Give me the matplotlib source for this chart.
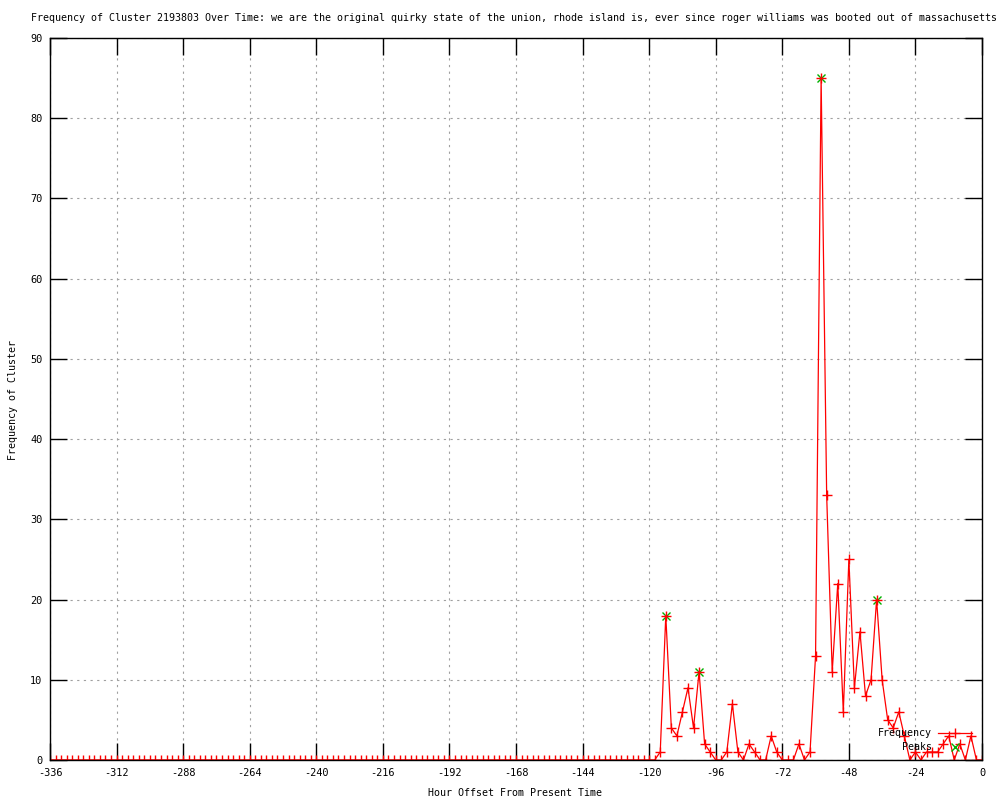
import matplotlib
matplotlib.use("Agg")
import matplotlib.pyplot as plt
from matplotlib.lines import Line2D
from matplotlib.ticker import FuncFormatter
import numpy as np

plt.rcParams['axes.unicode_minus'] = False
plt.rcParams['font.family'] = ['DejaVu Sans Mono']

title = ("Frequency of Cluster 2193803 Over Time: we are the original quirky state of the union, "
         "rhode island is, ever since roger williams was booted out of massachusetts")
x_label = "Hour Offset From Present Time"
y_label = "Frequency of Cluster"

# hours from -336 to 0, every 2 hours; zeros before -116
hours = list(range(-336, 1, 2))
nonzero = {
    -116: 1, -114: 18, -112: 4, -110: 3, -108: 6, -106: 9, -104: 4, -102: 11,
    -100: 2, -98: 1, -96: 0, -94: 0, -92: 1, -90: 7, -88: 1, -86: 0, -84: 2,
    -82: 1, -80: 0, -78: 0, -76: 3, -74: 1, -72: 0, -70: 0, -68: 0, -66: 2,
    -64: 0, -62: 1, -60: 13, -58: 85, -56: 33, -54: 11, -52: 22, -50: 6,
    -48: 25, -46: 9, -44: 16, -42: 8, -40: 10, -38: 20, -36: 10, -34: 5,
    -32: 4, -30: 6, -28: 3, -26: 0, -24: 1, -22: 0, -20: 1, -18: 1, -16: 1,
    -14: 2, -12: 3, -10: 0, -8: 2, -6: 0, -4: 3, -2: 0, 0: 0,
}
frequency = [nonzero.get(h, 0) for h in hours]

peak_hours = [-114, -102, -58, -38]
peak_values = [18, 11, 85, 20]

x_ticks = list(range(-336, 1, 24))
y_ticks = list(range(0, 91, 10))

fig = plt.figure(figsize=(10, 8), dpi=100)
ax = fig.add_axes([0.050, 0.050, 0.932, 0.9025])

ax.plot(hours, frequency, color='#ff0000', lw=0.9, marker='+', ms=7,
        mew=1.0, zorder=3, label='Frequency')
ax.plot(peak_hours, peak_values, linestyle='none', color='#00b000',
        marker='x', ms=6, mew=1.0, zorder=2, label='Peaks')

ax.set_xlim(-336, 0)
ax.set_ylim(0, 90)
ax.set_xticks(x_ticks)
ax.set_yticks(y_ticks)
ax.xaxis.set_major_formatter(FuncFormatter(lambda v, p: "%d" % v))
ax.yaxis.set_major_formatter(FuncFormatter(lambda v, p: "%d" % v))
ax.tick_params(direction='in', length=12, width=1, top=True, right=True,
               labelsize=7.4, color='black')
ax.tick_params(axis='x', pad=6)
ax.tick_params(axis='y', pad=5.5)
ax.grid(True, color='#a0a0a0', linestyle=(0, (2, 4)), lw=0.8)
ax.set_axisbelow(True)
for s in ax.spines.values():
    s.set_linewidth(1.0)
    s.set_zorder(5)

fig.text(0.514, 1 - 18 / 800, title, ha='center', va='center', fontsize=7.2)
fig.text(0.515, 1 - 793 / 800, x_label, ha='center', va='center', fontsize=7.2)
fig.text(0.013, 0.5, y_label, ha='center', va='center', rotation=90, fontsize=7.2)

handles = [Line2D([], [], color='#ff0000', lw=0.9, marker='+', ms=7, mew=1.0),
           Line2D([], [], linestyle='none', color='#00b000', marker='x', ms=6, mew=1.0)]
leg = ax.legend(handles, ['Frequency', 'Peaks'], markerfirst=False, frameon=False,
                loc='lower right', bbox_to_anchor=(972 / 1000, 1 - 752 / 800),
                bbox_transform=fig.transFigure, fontsize=7.2, handlelength=3.4,
                handletextpad=0.6, labelspacing=0.35, borderpad=0, borderaxespad=0)

fig.savefig('out.png', dpi=100)
